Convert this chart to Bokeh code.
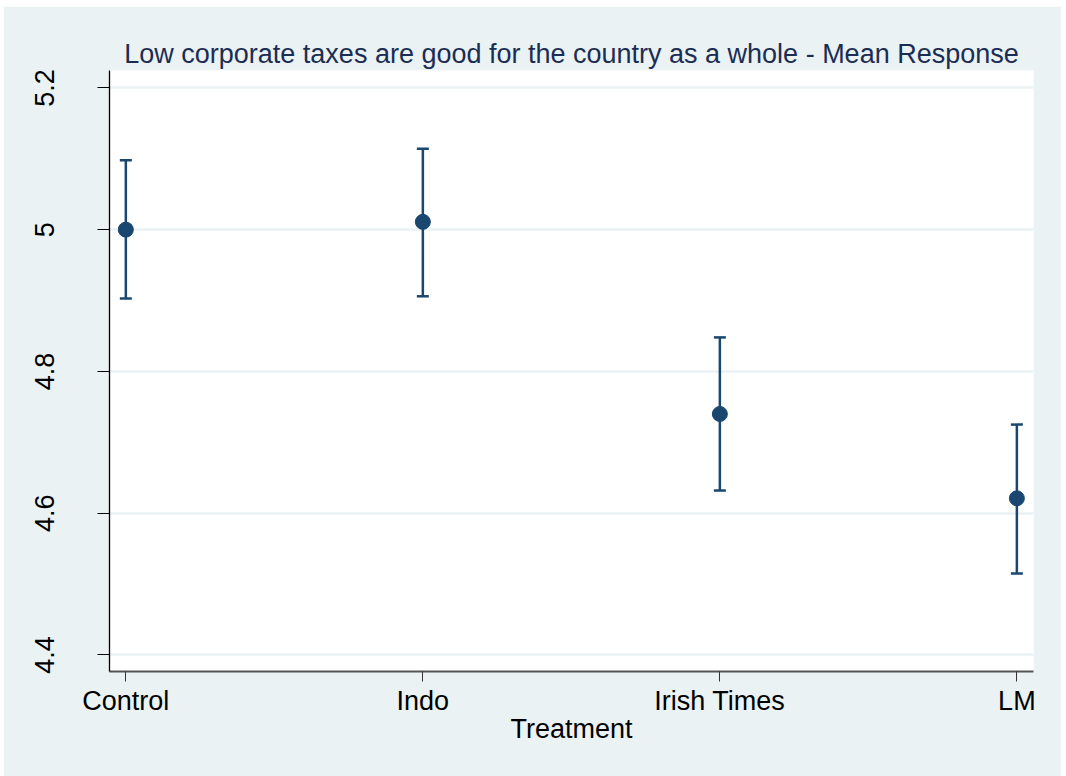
from bokeh.plotting import figure
from bokeh.models import ColumnDataSource, Whisker, TeeHead, FixedTicker, Range1d
from bokeh.embed import file_html
from bokeh.resources import INLINE

# Mean response by treatment group with confidence bounds
categories = ["Control", "Indo", "Irish Times", "LM"]
means = [5.000, 5.011, 4.740, 4.621]
upper = [5.098, 5.114, 4.848, 4.725]
lower = [4.903, 4.906, 4.632, 4.515]

y_ticks = [4.4, 4.6, 4.8, 5.0, 5.2]
y_tick_labels = ["4.4", "4.6", "4.8", "5", "5.2"]

title_text = "Low corporate taxes are good for the country as a whole - Mean Response"
x_title = "Treatment"

NAVY = "#1a476f"
BG = "#eaf2f3"
FONT = "Liberation Sans"
FS = "27px"

xpos = list(range(len(categories)))
src = ColumnDataSource(dict(x=xpos, mean=means, upper=upper, lower=lower))

p = figure(
    width=1058, height=770,
    output_backend="svg", toolbar_location=None,
    x_range=Range1d(-0.055, 3.056), y_range=Range1d(4.3767, 5.2245),
    min_border_left=106, min_border_right=28,
    min_border_top=64, min_border_bottom=105,
)
p.margin = (6, 5, 0, 3)
p.border_fill_color = BG
p.background_fill_color = "white"
p.outline_line_color = None

p.title.text = title_text
p.title.align = "center"
p.title.text_font = FONT
p.title.text_font_size = FS
p.title.text_font_style = "normal"
p.title.text_color = "#1c2d54"
p.title.standoff = 4

# error bars
whisk = Whisker(
    source=src, base="x", upper="upper", lower="lower",
    line_color=NAVY, line_width=2.5,
    upper_head=TeeHead(size=12, line_color=NAVY, line_width=2.5),
    lower_head=TeeHead(size=12, line_color=NAVY, line_width=2.5),
)
p.add_layout(whisk)

# means
p.scatter("x", "mean", source=src, size=15, fill_color=NAVY, line_color=NAVY)

# x axis
xa = p.xaxis[0]
xa.ticker = FixedTicker(ticks=xpos)
xa.major_label_overrides = {i: c for i, c in zip(xpos, categories)}
xa.axis_label = x_title
xa.axis_label_text_font = FONT
xa.axis_label_text_font_size = FS
xa.axis_label_text_font_style = "normal"
xa.axis_label_text_color = "black"
xa.axis_label_standoff = -5
xa.major_label_text_font = FONT
xa.major_label_text_font_size = FS
xa.major_label_text_color = "black"
xa.major_label_standoff = 4
xa.major_tick_in = 0
xa.major_tick_out = 10
xa.major_tick_line_color = "#333333"
xa.minor_tick_line_color = None
xa.axis_line_color = "#555555"
xa.axis_line_width = 2

# y axis
ya = p.yaxis[0]
ya.ticker = FixedTicker(ticks=y_ticks)
ya.major_label_overrides = {t: s for t, s in zip(y_ticks, y_tick_labels)}
ya.major_label_orientation = "vertical"
ya.major_label_text_font = FONT
ya.major_label_text_font_size = FS
ya.major_label_text_color = "black"
ya.major_label_standoff = 43
ya.major_tick_in = 0
ya.major_tick_out = 12
ya.major_tick_line_color = "black"
ya.minor_tick_line_color = None
ya.axis_line_color = "black"
ya.axis_line_width = 1.3

p.xgrid.grid_line_color = None
p.ygrid.ticker = FixedTicker(ticks=y_ticks)
p.ygrid.grid_line_color = BG
p.ygrid.grid_line_width = 2.5

open("out.html", "w").write(file_html(p, INLINE))
